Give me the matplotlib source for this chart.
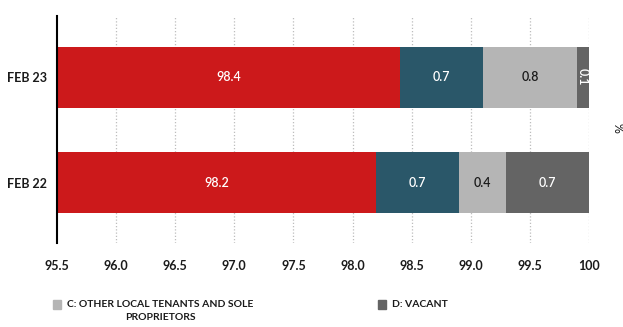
import matplotlib.pyplot as plt
from matplotlib.patches import Rectangle

plt.rcParams['font.family'] = ['Lato', 'DejaVu Sans']

periods = ['FEB 22', 'FEB 23']
legend_labels = {
    'C': 'C: OTHER LOCAL TENANTS AND SOLE\nPROPRIETORS',
    'D': 'D: VACANT',
}
values = {
    'A': [98.2, 98.4],
    'B': [0.7, 0.7],
    'C': [0.4, 0.8],
    'D': [0.7, 0.1],
}
colors = {'A': '#cc191b', 'B': '#2a5769', 'C': '#b5b5b5', 'D': '#646464'}
label_colors = {'A': 'white', 'B': 'white', 'C': '#1a1a1a', 'D': 'white'}
xticks = [95.5, 96.0, 96.5, 97.0, 97.5, 98.0, 98.5, 99.0, 99.5, 100]
xmin, xmax = 95.5, 100

W, H = 623, 327
fig = plt.figure(figsize=(W / 100, H / 100), dpi=100)
ax = fig.add_axes([57 / W, 1 - 243 / H, 532 / W, 227 / H])

ypos = list(range(len(periods)))
left = [0.0] * len(periods)
for key in ['A', 'B', 'C', 'D']:
    vals = values[key]
    ax.barh(ypos, vals, left=left, height=0.58, color=colors[key], zorder=2)
    for y, l, v in zip(ypos, left, vals):
        # centre the label on the visible part of the segment
        cx = (max(l, xmin) + l + v) / 2
        rot = 270 if v < 0.2 else 0
        ax.text(cx, y, f'{v:.1f}', ha='center', va='center', rotation=rot,
                color=label_colors[key], fontsize=9, fontweight='semibold', zorder=3)
    left = [l + v for l, v in zip(left, vals)]

ax.set_xlim(xmin, xmax)
ax.set_ylim(-0.57, 1.58)
ax.set_xticks(xticks)
ax.set_xticklabels(['100' if t == 100 else f'{t:.1f}' for t in xticks],
                   fontsize=9, fontweight='bold', color='#1a1a1a')
ax.set_yticks(ypos)
ax.set_yticklabels(periods, fontsize=9, fontweight='bold', color='#1a1a1a')
ax.tick_params(axis='both', length=0)
ax.tick_params(axis='x', pad=12)
ax.tick_params(axis='y', pad=7)

for t in xticks[1:]:
    ax.axvline(t, color='#bdbdbd', lw=0.9, ls=(0, (1, 1.6)), zorder=1)

for s in ['top', 'right', 'bottom']:
    ax.spines[s].set_visible(False)
ax.spines['left'].set_linewidth(1.5)
ax.spines['left'].set_color('black')

fig.text(618 / W, 1 - 128 / H, '%', rotation=270, ha='center', va='center',
         fontsize=9, color='#1a1a1a')

# legend drawn by hand so the swatch lines up with the first text line
legend_font = dict(fontsize=7.5, fontweight='bold', color='#1a1a1a')
for key, x_box in [('C', 53), ('D', 378)]:
    fig.add_artist(Rectangle((x_box / W, 1 - 309 / H), 8 / W, 9 / H,
                             transform=fig.transFigure, color=colors[key]))
    fig.text((x_box + 14) / W, 1 - 300 / H, legend_labels[key], ha='left', va='top',
             multialignment='center', linespacing=1.5, **legend_font)

fig.savefig('out.png', dpi=100)
